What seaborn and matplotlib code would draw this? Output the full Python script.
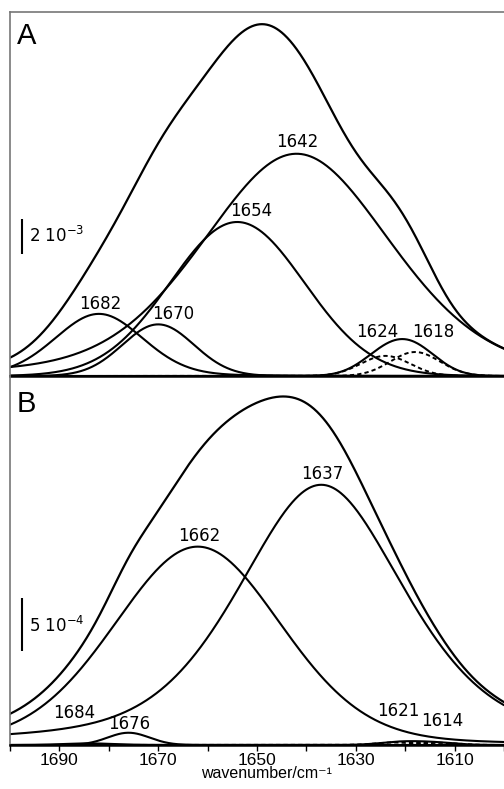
import numpy as np
import pandas as pd
import matplotlib
matplotlib.use("Agg")
import matplotlib.pyplot as plt
import seaborn as sns

# ==========================================
# DATA  (band fit)
# ==========================================
# Panel A: band centre (cm-1), height (absorbance), FWHM (cm-1), Lorentz fraction
A_CENTERS = [1682, 1670, 1654, 1642, 1624, 1618]
A_HEIGHTS = [0.00355, 0.00295, 0.0088, 0.0127, 0.00115, 0.00137]
A_FWHM = [21, 17, 32, 45, 11.8, 11.8]
A_ETA = [0.1, 0.0, 0.0, 0.25, 0.0, 0.0]
A_DASHED = [1624, 1618]          # minor bands drawn dashed, their sum solid

# Panel B
B_CENTERS = [1684, 1676, 1662, 1637, 1621, 1614]
B_HEIGHTS = [0.000015, 0.000115, 0.00186, 0.00244, 0.000028, 0.000022]
B_FWHM = [12, 10, 40, 40, 10, 10]
B_ETA = [0.0, 0.0, 0.15, 0.45, 0.0, 0.0]
B_DASHED = [1621, 1614]

MAJOR_TICKS = [1690, 1670, 1650, 1630, 1610]
MINOR_TICKS = [1700, 1680, 1660, 1640, 1620, 1600]

WN = np.linspace(1700, 1600, 801)   # evaluation grid of the band model


def band(x, center, height, fwhm, eta):
    """pseudo-Voigt band profile"""
    d = (x - center) / (fwhm / 2)
    return height * (eta * 1 / (1 + d ** 2) + (1 - eta) * np.exp(-np.log(2) * d ** 2))


def draw_panel(ax, centers, heights, fwhm, eta, dashed):
    comps = {c: band(WN, c, h, w, e) for c, h, w, e in zip(centers, heights, fwhm, eta)}
    total = sum(comps.values())
    kw = dict(ax=ax, color="black", legend=False, sort=False)
    sns.lineplot(x=WN, y=total, lw=1.6, **kw)
    for c, y in comps.items():
        if c in dashed:
            sns.lineplot(x=WN, y=y, lw=1.4, linestyle=(0, (2.2, 1.6)), **kw)
        else:
            sns.lineplot(x=WN, y=y, lw=1.5, **kw)
    minor = sum(comps[c] for c in dashed)
    sns.lineplot(x=WN, y=minor, lw=1.5, **kw)
    return comps


sns.set_style("white")
plt.rcParams["font.family"] = ["Liberation Sans", "DejaVu Sans"]
plt.rcParams["mathtext.default"] = "regular"
plt.rcParams["text.color"] = "black"
plt.rcParams["xtick.color"] = "black"
plt.rcParams["axes.labelcolor"] = "black"

fig = plt.figure(figsize=(5.04, 7.89), dpi=100)
ax_a = fig.add_axes([10 / 504, 1 - 376 / 789, 494 / 504, 364 / 789])
ax_b = fig.add_axes([10 / 504, 1 - 745 / 789, 494 / 504, 369 / 789])

draw_panel(ax_a, A_CENTERS, A_HEIGHTS, A_FWHM, A_ETA, A_DASHED)
draw_panel(ax_b, B_CENTERS, B_HEIGHTS, B_FWHM, B_ETA, B_DASHED)

ax_a.set_ylim(0, 0.0208)
ax_b.set_ylim(0, 0.00346)

for ax in (ax_a, ax_b):
    ax.set_xlim(1700, 1600)
    ax.set_xticks(MAJOR_TICKS)
    ax.set_xticks(MINOR_TICKS, minor=True)
    ax.set_yticks([])
    ax.set_ylabel("")
    ax.spines["right"].set_visible(False)
    ax.spines["left"].set_color("#777777")
    ax.spines["left"].set_linewidth(1.2)
    ax.spines["bottom"].set_color("black")
    ax.spines["bottom"].set_linewidth(1.8)
    ax.patch.set_alpha(0)

ax_a.spines["top"].set_color("#777777")
ax_a.spines["top"].set_linewidth(1.2)
ax_b.spines["top"].set_visible(False)

ax_a.tick_params(axis="x", which="both", direction="inout", length=6, width=1,
                 color="black", labelbottom=False)
ax_b.tick_params(axis="x", which="both", direction="out", length=4, width=1,
                 color="black", labelsize=12.5, pad=1.5, bottom=True)

ax_b.set_xlabel("wavenumber/cm\u207b\u00b9", fontsize=11.5, va="bottom")
ax_b.xaxis.set_label_coords(0.52, -0.0985)

# panel letters
ax_a.text(0.014, 0.973, "A", transform=ax_a.transAxes, fontsize=21, va="top")
ax_b.text(0.014, 0.962, "B", transform=ax_b.transAxes, fontsize=21, va="top")

# scale bars
ax_a.vlines(1697.6, 0.007, 0.009, color="black", lw=1.5)
ax_a.text(1696.2, 0.0080, "2 10$^{-3}$", fontsize=12, va="center", family="DejaVu Sans")
ax_b.vlines(1697.6, 0.00088, 0.00138, color="black", lw=1.5)
ax_b.text(1696.2, 0.00112, "5 10$^{-4}$", fontsize=12, va="center", family="DejaVu Sans")

# band labels (x, y of the label bottom centre)
label_kw = dict(fontsize=12, ha="center", va="bottom", family="DejaVu Sans")
for txt, x, y in [("1682", 1681.8, 0.00362), ("1670", 1666.9, 0.00305),
                  ("1654", 1651.2, 0.00893), ("1642", 1641.8, 0.01285),
                  ("1624", 1625.7, 0.00200), ("1618", 1614.4, 0.00200)]:
    ax_a.text(x, y, txt, **label_kw)
for txt, x, y in [("1637", 1636.7, 0.00246), ("1662", 1661.6, 0.00188),
                  ("1684", 1687.0, 0.000213), ("1676", 1675.8, 0.000113),
                  ("1621", 1621.3, 0.000237), ("1614", 1612.4, 0.000143)]:
    ax_b.text(x, y, txt, **label_kw)

fig.savefig("out.png", dpi=100)
